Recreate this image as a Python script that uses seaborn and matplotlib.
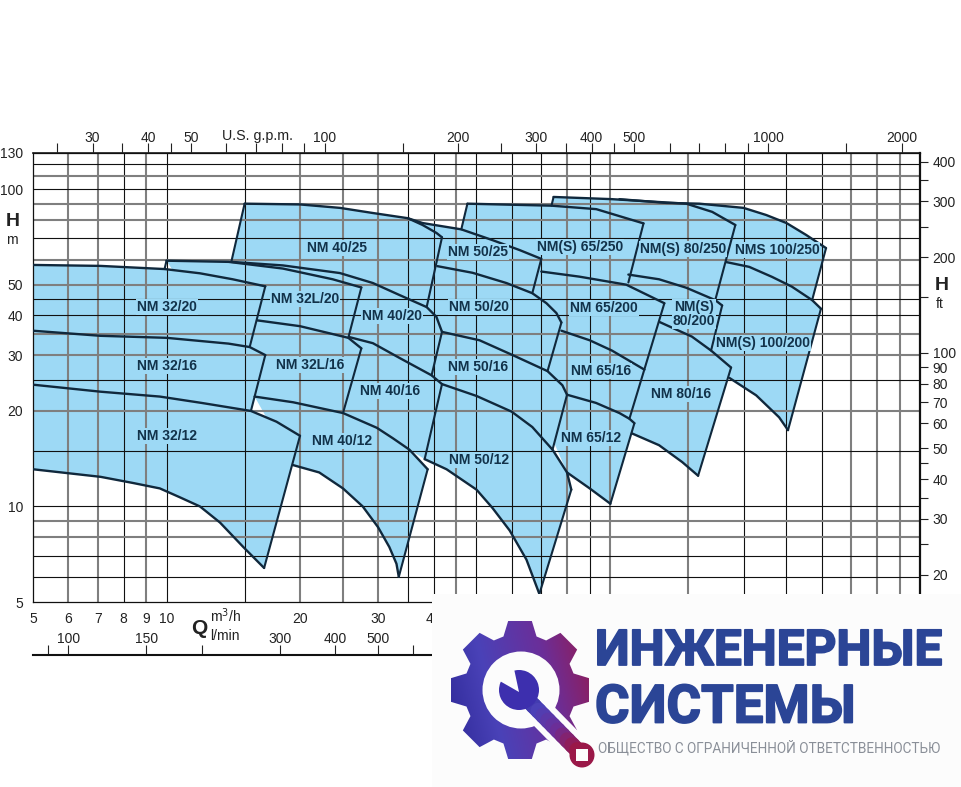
import numpy as np
import seaborn as sns
import matplotlib.pyplot as plt
import matplotlib.patheffects as pe
from matplotlib.patches import Rectangle, Circle, Polygon, Wedge
from matplotlib.colors import LinearSegmentedColormap
from matplotlib.ticker import NullLocator

# Pump curves: Q in m3/h, H in m
q_32_20 = [5, 7.1, 9.9, 11.9, 14.1, 16.7]
h_32_20 = [57.7, 57.3, 56, 54.3, 52, 49.4]
q_32_16 = [5, 7.1, 10, 13.8, 15.4, 16.7]
h_32_16 = [35.8, 34.5, 34, 32.6, 31.8, 30]
q_32_12 = [5, 7.1, 9.66, 12, 15.5, 17.7, 20]
h_32_12 = [24.2, 23, 22.2, 21.2, 20, 18.5, 16.7]
q_32_low = [5, 7.1, 8.4, 9.66, 10.7, 11.9, 13.2, 14.9, 16.6]
h_32_low = [13.1, 12.4, 11.86, 11.4, 10.7, 10, 8.9, 7.45, 6.4]

q_32l_20 = [10, 13.8, 18.3, 23.7, 27.5]
h_32l_20 = [59.5, 59, 56.2, 52, 49]
q_32l_16 = [16, 20, 25.7, 27.5]
h_32l_16 = [38.6, 37, 34, 31.5]
q_40_12 = [15.8, 19.3, 25, 29.8, 32.4, 35.3, 38.8]
h_40_12 = [22.2, 21.3, 19.7, 17.7, 16.4, 15.1, 13.1]
q_40_low = [19.3, 22.1, 25, 27.7, 30, 31.8, 33, 33.4]
h_40_low = [13.5, 12.8, 11.4, 10, 8.6, 7.45, 6.6, 6]

q_40_25 = [15, 20, 24.6, 29.2, 35, 37.8, 40.6, 41.8]
h_40_25 = [90, 89.5, 87.3, 84.1, 81, 77.1, 72.8, 70.5]
q_40_20 = [14, 18.3, 24.6, 29.2, 33.5, 38.6, 40.6, 41.8]
h_40_20 = [59, 57.5, 54.4, 50.6, 46.4, 42.5, 39.6, 35.5]
q_40_16 = [25.8, 29.2, 33.5, 39.6, 41.8]
h_40_16 = [34.2, 32.7, 29.4, 25.9, 24.3]

q_50_25 = [35, 37.8, 46.2, 54.3, 62.5, 70]
h_50_25 = [81, 78.2, 74.7, 69.1, 64.3, 60.3]
q_50_20 = [40.8, 49, 58.4, 66.8, 71.9, 75.7, 77.7]
h_50_20 = [57.2, 54.5, 50.6, 47, 43.7, 40.7, 38]
q_50_16 = [41.8, 50.8, 60.3, 72.3, 78.1, 80]
h_50_16 = [35.5, 33.4, 30, 26.7, 24.1, 22.5]
q_50_12 = [41.8, 50, 60, 66.8, 74.2, 80, 81.8]
h_50_12 = [24.3, 22.3, 19.9, 17.8, 15.1, 12.8, 11.3]
q_50_low = [38.2, 42.8, 50, 54.3, 59.4, 64.8, 69.3]
h_50_low = [14.1, 13.1, 11.3, 9.9, 8.4, 6.8, 5.3]

q_65_250 = [47.7, 73.8, 93.1, 119]
h_65_250 = [90, 88.7, 86.5, 78]
q_65_200 = [70, 85.3, 108.8, 132.6]
h_65_200 = [55, 53, 50, 43.7]
q_65_16 = [77.7, 90, 101, 119.5]
h_65_16 = [35.8, 33.4, 31, 27]
q_65_12 = [80, 93, 105, 110.6, 113.5]
h_65_12 = [22.5, 21.2, 19.7, 18.9, 18.3]
q_65_low = [80, 90, 100.2]
h_65_low = [12.8, 11.4, 10.2]

q_80_250 = [74.6, 101, 148.6, 170, 191.7]
h_80_250 = [94.5, 93, 90, 84.8, 77.1]
q_80_200 = [110, 129, 148.6, 172.7, 179]
h_80_200 = [53.8, 52, 48.9, 44.7, 43]
q_80_16 = [129, 153, 169, 187.5]
h_80_16 = [38.2, 34.3, 31, 27.4]
q_80_low = [112, 129, 145.5, 158]
h_80_low = [17, 15.6, 13.8, 12.5]

q_100_250 = [105, 134, 159, 200, 225, 250, 277, 307]
h_100_250 = [93, 90.5, 90, 87.3, 82.9, 78.2, 71.7, 65.2]
q_100_200 = [183, 206, 232, 257, 285.6, 299]
h_100_200 = [58.9, 56.9, 52.9, 49.3, 44.7, 42]
q_100_low = [186, 213.6, 240.6, 252]
h_100_low = [25.4, 22.4, 19.1, 17.4]

# straight sides of the fields
edge_q = [(16.7, 15.4), (16.7, 15.5), (20, 16.6), (10, 9.9), (27.5, 25.7), (27.5, 25), (38.8, 33.4),
          (15, 14), (41.8, 38.6), (41.8, 39.6), (41.8, 38.2), (70, 66.8), (77.7, 72.3), (80, 74.2),
          (81.8, 69.3), (47.7, 46.2), (119, 110), (132.6, 119.5), (119.5, 110.6), (113.5, 100.2),
          (74.6, 73.8), (191.7, 172.7), (179, 169), (187.5, 158), (307, 285.6), (299, 252)]
edge_h = [(49.4, 31.8), (30, 20), (16.7, 6.4), (59.5, 56), (49, 34), (31.5, 19.7), (13.1, 6),
          (90, 59), (70.5, 42.5), (35.5, 25.9), (24.3, 14.1), (60.3, 47), (38, 26.7), (22.5, 15.1),
          (11.3, 5.3), (90, 74.7), (78, 50.8), (43.7, 27), (27, 18.9), (18.3, 10.2),
          (94.5, 88.7), (77.1, 44.7), (43, 31), (27.4, 12.5), (65.2, 44.7), (42, 17.4)]

# grid
grid_q_black = [8, 10, 15, 35, 40, 50, 60, 70, 90, 200, 250, 300]
grid_q_grey = [6, 7, 9, 20, 25, 30, 45, 80, 100, 150, 350, 400, 450]
grid_h_black = [120, 100, 70, 45, 40, 25, 15, 10, 7, 6]
grid_h_grey = [110, 90, 80, 60, 50, 35, 30, 20, 9, 8]

# axes ticks
q_ticks = [5, 6, 7, 8, 9, 10, 20, 30, 40]
h_ticks = [5, 10, 20, 30, 40, 50, 100, 130]
gpm_ticks = [25, 30, 35, 40, 45, 50, 60, 70, 80, 90, 100, 150, 200, 250, 300, 350, 400, 450, 500,
             600, 700, 800, 900, 1000, 1500, 2000]
gpm_labels = ['', '30', '', '40', '', '50', '', '', '', '', '100', '', '200', '', '300', '', '400', '',
              '500', '', '', '', '', '1000', '', '2000']
ft_ticks = [20, 25, 30, 35, 40, 45, 50, 60, 70, 80, 90, 100, 150, 200, 250, 300, 350, 400]
ft_labels = ['20', '', '30', '', '40', '', '50', '60', '70', '80', '90', '100', '', '200', '', '300', '', '400']
lmin_ticks = [90, 100, 150, 200, 300, 400, 500, 600]
lmin_labels = ['', '100', '150', '', '300', '400', '500', '']

# pump names and where they sit (pixels)
pump_names = ['NM 40/25', 'NM 50/25', 'NM(S) 65/250', 'NM(S) 80/250', 'NMS 100/250', 'NM 32/20', 'NM 32L/20',
              'NM 40/20', 'NM 50/20', 'NM 65/200', 'NM(S)\n80/200', 'NM(S) 100/200', 'NM 32/16', 'NM 32L/16',
              'NM 40/16', 'NM 50/16', 'NM 65/16', 'NM 80/16', 'NM 32/12', 'NM 40/12', 'NM 50/12', 'NM 65/12']
name_x = [337, 478, 580, 683, 777, 167, 305, 392, 479, 604, 694, 763, 167, 310, 390, 478, 601, 681, 167, 342, 479, 591]
name_y = [248, 252, 247, 249, 250, 307, 299, 316, 307, 308, 314, 343, 366, 365, 391, 367, 371, 394, 436, 441, 460, 438]

BLUE = '#9dd9f5'
NAVY = '#10283c'
LABEL = '#12324a'
TEXT = '#222222'
W, H = 961, 787

sns.set_theme(style='white')
plt.rcParams['font.family'] = ['Liberation Sans', 'DejaVu Sans']
plt.rcParams['axes.unicode_minus'] = False

fig = plt.figure(figsize=(9.61, 7.87), dpi=100, facecolor='white')
ax = fig.add_axes([33 / W, 1 - 602 / H, (920 - 33) / W, (602 - 153) / H])
ax.set_xscale('log')
ax.set_yscale('log')

# blue fields, back to front
fills = [
    (q_32_20 + [15.4, 16.7, 15.5, 17.7, 20] + q_32_low[::-1], h_32_20 + [31.8, 30, 20, 18.5, 16.7] + h_32_low[::-1]),
    (q_32l_20 + [25.7, 27.5, 25, 19.3, 15.8], h_32l_20 + [34, 31.5, 19.7, 21.3, 22.2]),
    (q_40_12 + [33.4] + q_40_low[::-1], h_40_12 + [6] + h_40_low[::-1]),
    ([14] + q_40_25 + [38.6, 41.8, 39.6, 41.8, 38.2, 35.3, 25], [59] + h_40_25 + [42.5, 35.5, 25.9, 24.3, 14.1, 15.1, 19.7]),
    (q_50_25 + [66.8, 71.9, 77.7, 72.3, 80, 74.2, 80, 81.8] + q_50_low[::-1], h_50_25 + [47, 43.7, 38, 26.7, 22.5, 15.1, 12.8, 11.3] + h_50_low[::-1]),
    (q_65_250 + [110, 108.8, 132.6, 119.5, 110.6, 113.5] + q_65_low[::-1] + [46.2], h_65_250 + [50.8, 50, 43.7, 27, 18.9, 18.3] + h_65_low[::-1] + [74.7]),
    (q_80_250 + [172.7, 179, 169, 187.5] + q_80_low[::-1] + [73.8], h_80_250 + [44.7, 43, 31, 27.4] + h_80_low[::-1] + [88.7]),
    (q_100_250 + [285.6, 299] + q_100_low[::-1], h_100_250 + [44.7, 42] + h_100_low[::-1]),
]
for fq, fh in fills:
    ax.fill(fq, fh, color=BLUE, lw=0, zorder=1)

for q in grid_q_black:
    ax.axvline(q, color='#111111', lw=0.8, zorder=2)
for q in grid_q_grey:
    ax.axvline(q, color='#7f7f7f', lw=1.5, zorder=2)
for h in grid_h_black:
    ax.axhline(h, color='#111111', lw=0.8, zorder=2)
for h in grid_h_grey:
    ax.axhline(h, color='#7f7f7f', lw=1.5, zorder=2)

curves = [(q_32_20, h_32_20), (q_32_16, h_32_16), (q_32_12, h_32_12), (q_32_low, h_32_low),
          (q_32l_20, h_32l_20), (q_32l_16, h_32l_16), (q_40_12, h_40_12), (q_40_low, h_40_low),
          (q_40_25, h_40_25), (q_40_20, h_40_20), (q_40_16, h_40_16),
          (q_50_25, h_50_25), (q_50_20, h_50_20), (q_50_16, h_50_16), (q_50_12, h_50_12), (q_50_low, h_50_low),
          (q_65_250, h_65_250), (q_65_200, h_65_200), (q_65_16, h_65_16), (q_65_12, h_65_12), (q_65_low, h_65_low),
          (q_80_250, h_80_250), (q_80_200, h_80_200), (q_80_16, h_80_16), (q_80_low, h_80_low),
          (q_100_250, h_100_250), (q_100_200, h_100_200), (q_100_low, h_100_low)]
for cq, ch in curves:
    sns.lineplot(x=cq, y=ch, sort=False, estimator=None, color=NAVY, lw=1.7, zorder=3, ax=ax, legend=False)
for eq, eh in zip(edge_q, edge_h):
    sns.lineplot(x=list(eq), y=list(eh), sort=False, estimator=None, color=NAVY, lw=1.5, zorder=3, ax=ax, legend=False)

ax.set_xlim(5, 500)
ax.set_ylim(5, 130)
ax.xaxis.set_minor_locator(NullLocator())
ax.yaxis.set_minor_locator(NullLocator())
ax.set_xticks(q_ticks, [str(t) for t in q_ticks])
ax.set_yticks(h_ticks, [str(t) for t in h_ticks])
ax.tick_params(axis='both', length=0, labelsize=10, colors=TEXT)
ax.tick_params(axis='x', pad=7)
ax.tick_params(axis='y', pad=7)
for name, spine in ax.spines.items():
    spine.set_visible(True)
    spine.set_color('#111111')
    spine.set_linewidth(1.6 if name == 'right' else 0.9)

top = ax.secondary_xaxis('top', functions=(lambda q: q * 4.403, lambda g: g / 4.403))
top.set_xticks(gpm_ticks, gpm_labels)
top.xaxis.set_minor_locator(NullLocator())
top.tick_params(axis='x', direction='out', length=7, width=0.8, pad=-1, labelsize=10, color=TEXT, labelcolor=TEXT)

right = ax.secondary_yaxis('right', functions=(lambda m: m * 3.281, lambda f: f / 3.281))
right.set_yticks(ft_ticks, ft_labels)
right.yaxis.set_minor_locator(NullLocator())
right.tick_params(axis='y', direction='out', length=6, width=0.8, pad=3, labelsize=10, color=TEXT, labelcolor=TEXT)

lmin = ax.secondary_xaxis(-53 / 449, functions=(lambda q: q / 0.06, lambda l: l * 0.06))
lmin.set_xticks(lmin_ticks, [''] * len(lmin_ticks))
lmin.xaxis.set_minor_locator(NullLocator())
lmin.tick_params(axis='x', direction='in', length=7, width=0.8, color=TEXT)
lmin.spines['bottom'].set_linewidth(1.5)
lmin.spines['bottom'].set_color('#111111')
lmin.spines['top'].set_visible(False)
for t, lab in zip(lmin_ticks, lmin_labels):
    ax.text(t * 0.06, -37 / 449, lab, transform=ax.get_xaxis_transform(), ha='center', va='center',
            fontsize=10, color=TEXT)

# overlay in pixel coordinates: names, axis titles, company logo
over = fig.add_axes([0, 0, 1, 1], facecolor='none')
over.set_axis_off()

for name, px, py in zip(pump_names, name_x, name_y):
    over.text(px, py, name, ha='center', va='center', fontsize=10, fontweight='bold', color=LABEL,
              linespacing=1.0, bbox=dict(fc=BLUE, ec='none', pad=0.6), zorder=5)

over.text(258, 136, 'U.S. g.p.m.', ha='center', va='center', fontsize=10.3, color=TEXT)
over.text(13, 221, 'H', ha='center', va='center', fontsize=14, fontweight='bold', color=TEXT)
over.text(12, 240, 'm', ha='center', va='center', fontsize=10, color=TEXT)
over.text(942, 286, 'H', ha='center', va='center', fontsize=14, fontweight='bold', color=TEXT)
over.text(940, 304, 'ft', ha='center', va='center', fontsize=10, color=TEXT)
over.text(199, 628, 'Q', ha='center', va='center', fontsize=15, fontweight='bold', color=TEXT)
over.text(210, 616, 'm$^3$/h', ha='left', va='center', fontsize=10, color=TEXT)
over.text(210, 636, 'l/min', ha='left', va='center', fontsize=10, color=TEXT)

over.add_patch(Rectangle((432, 594), 529, 193, fc='#fcfcfc', ec='none', zorder=6))

# gear with a blue to crimson gradient
cx, cy = 520, 690
angles = np.arange(8) * np.pi / 4
pts = []
for a in angles:
    for da, r in [(-0.30, 56), (-0.17, 70), (0.17, 70), (0.30, 56)]:
        pts.append((cx + r * np.cos(a + da), cy + r * np.sin(a + da)))
gear = Polygon(pts, closed=True, fc='none', ec='none', zorder=7)
over.add_patch(gear)
cmap = LinearSegmentedColormap.from_list('logo', ['#2a2592', '#4a42b8', '#6a2f9a', '#9a1848'])
gx, gy = np.meshgrid(np.linspace(0, 1, 200), np.linspace(0, 1, 200))
img = over.imshow(0.8 * gx + 0.2 * (1 - gy), extent=(445, 595, 765, 615), cmap=cmap, aspect='auto', zorder=7)
img.set_clip_path(gear)
over.add_patch(Circle((cx + 1, cy), 38.5, fc='#fcfcfc', ec='none', zorder=8))

# wrench
over.plot([530, 584], [702, 757], color='#fcfcfc', lw=20, solid_capstyle='round', zorder=8)
seg_x = np.linspace(524, 582, 13)
seg_y = np.linspace(696, 755, 13)
seg_c = cmap(np.linspace(0.1, 1, 12))
for i in range(12):
    over.plot(seg_x[i:i + 2], seg_y[i:i + 2], color=seg_c[i], lw=11.5, solid_capstyle='round', zorder=9)
over.add_patch(Circle((582, 755), 12.5, fc='#9a1848', ec='none', zorder=9))
over.add_patch(Rectangle((576, 749), 12, 12, fc='#fcfcfc', ec='none', zorder=10))
over.add_patch(Wedge((519, 690), 20, 0, 360, width=20, fc='#3d2fae', ec='none', zorder=9))
over.add_patch(Polygon([(519, 692), (498, 680), (513, 664)], closed=True, fc='#fcfcfc', ec='none', zorder=10))

thick = [pe.withStroke(linewidth=1.3, foreground='#2b4596')]
over.text(595, 652, 'ИНЖЕНЕРНЫЕ', ha='left', va='center', fontsize=35.6, family=['Roboto', 'DejaVu Sans'],
          fontweight='bold', color='#2b4596', path_effects=thick, zorder=9)
over.text(595, 708, 'СИСТЕМЫ', ha='left', va='center', fontsize=38, family=['Roboto', 'DejaVu Sans'],
          fontweight='bold', color='#2b4596', path_effects=thick, zorder=9)
over.text(598, 748, 'ОБЩЕСТВО С ОГРАНИЧЕННОЙ ОТВЕТСТВЕННОСТЬЮ', ha='left', va='center', fontsize=9.85,
          family=['Roboto', 'DejaVu Sans'], color='#8a8f98', zorder=9)

over.set_xlim(0, W)
over.set_ylim(H, 0)

fig.savefig('out.png', dpi=100)
